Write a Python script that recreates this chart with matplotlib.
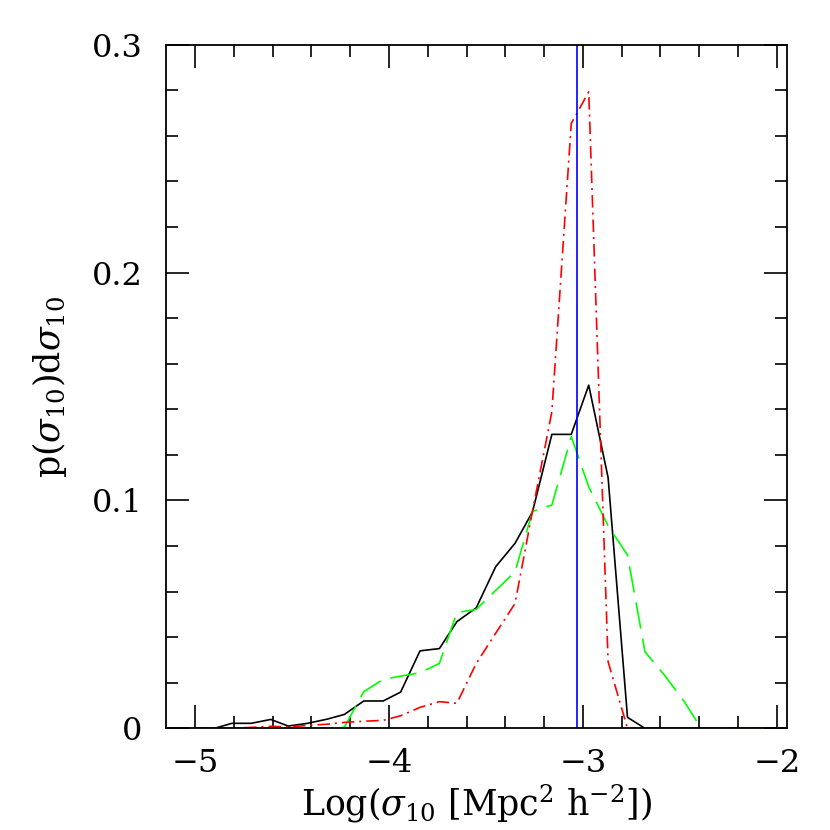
import matplotlib
matplotlib.use("Agg")
import matplotlib.pyplot as plt
from matplotlib.ticker import MultipleLocator, FixedFormatter, FixedLocator

plt.rcParams['font.family'] = ['DejaVu Serif']
plt.rcParams['mathtext.fontset'] = 'dejavuserif'

# bin centres, log(sigma_10)
x = [-5.00, -4.90, -4.81, -4.71, -4.61, -4.52, -4.42, -4.32, -4.23, -4.13,
     -4.03, -3.94, -3.84, -3.74, -3.65, -3.55, -3.45, -3.35, -3.26, -3.16,
     -3.06, -2.97, -2.87, -2.77, -2.68, -2.58, -2.48, -2.39, -2.29, -2.19,
     -2.10, -2.00]

# black solid
p_black = [0, 0, 0.0022, 0.0022, 0.0039, 0.0010, 0.0022, 0.0040, 0.0061, 0.0120,
           0.0120, 0.0159, 0.0340, 0.0350, 0.0468, 0.0529, 0.0709, 0.0812, 0.0950, 0.1290,
           0.1290, 0.1506, 0.1100, 0.0048, 0, 0, 0, 0, 0, 0,
           0, 0]

# green dashed
p_green = [0, 0, 0, 0, 0, 0, 0, 0, 0.0005, 0.0161,
           0.0215, 0.0229, 0.0244, 0.0285, 0.0508, 0.0522, 0.0605, 0.0687, 0.0952, 0.0980,
           0.1280, 0.1060, 0.0889, 0.0760, 0.0336, 0.0234, 0.0121, 0, 0, 0,
           0, 0]

# red dot-dashed
p_red = [0, 0, 0, 0.0004, 0.0009, 0.0006, 0.0013, 0.0018, 0.0026, 0.0031,
         0.0035, 0.0055, 0.0092, 0.0117, 0.0110, 0.0285, 0.0417, 0.0548, 0.0953, 0.1390,
         0.2655, 0.2793, 0.0292, 0, 0, 0, 0, 0, 0, 0,
         0, 0]

x_mark = -3.03

fig = plt.figure(figsize=(8.3, 8.3), dpi=100)
ax = fig.add_axes([0.2, 0.1225, 0.7476, 0.8236])

ax.plot(x, p_black, color='black', lw=1.2)
ax.plot(x, p_green, color='#00ff00', lw=1.2, dashes=(16, 6))
ax.plot(x, p_red, color='red', lw=1.2, dashes=(7.5, 3, 1.2, 3))
ax.axvline(x_mark, color='blue', lw=1.2)

ax.set_xlim(-5.15, -1.95)
ax.set_ylim(0, 0.3)

ax.xaxis.set_major_locator(FixedLocator([-5, -4, -3, -2]))
ax.xaxis.set_major_formatter(FixedFormatter(['\u22125', '\u22124', '\u22123', '\u22122']))
ax.xaxis.set_minor_locator(MultipleLocator(0.2))
ax.yaxis.set_major_locator(FixedLocator([0, 0.1, 0.2, 0.3]))
ax.yaxis.set_major_formatter(FixedFormatter(['0', '0.1', '0.2', '0.3']))
ax.yaxis.set_minor_locator(MultipleLocator(0.02))

ax.tick_params(which='both', direction='in', top=True, right=True, width=1.2)
ax.tick_params(which='major', length=16.5, labelsize=23)
ax.tick_params(axis='x', which='major', pad=14)
ax.tick_params(axis='y', which='major', pad=17)
ax.tick_params(which='minor', length=8.5)
for s in ax.spines.values():
    s.set_linewidth(1.3)

ax.set_xlabel(r'Log($\sigma_{10}$ [Mpc$^2$ h$^{-2}$])', fontsize=25, labelpad=3)
ax.set_ylabel(r'p($\sigma_{10}$)d$\sigma_{10}$', fontsize=25, labelpad=16)

fig.savefig('out.png', dpi=100)
